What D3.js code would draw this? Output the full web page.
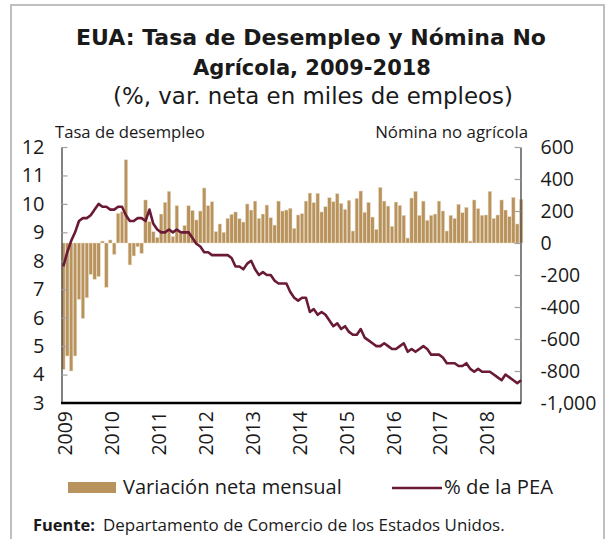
<!DOCTYPE html>
<html><head><meta charset="utf-8">
<script src="https://cdn.jsdelivr.net/npm/d3@7/dist/d3.min.js"></script>
<style>body{margin:0;background:#fff} text{font-family:'Open Sans',sans-serif;fill:#1a1a1a}</style>
</head><body><svg id="c" width="607" height="539"></svg>
<script>
// ---- data ----
const years = ["2009","2010","2011","2012","2013","2014","2015","2016","2017","2018"];
const monthsInLastYear = 10; // Jan-Oct 2018
// Net monthly change in nonfarm payrolls (thousands), Jan 2009 - Oct 2018
const payroll = [
  -790,-706,-800,-706,-352,-471,-342,-196,-227,-210,12,-277,
  19,-71,185,195,520,-137,-81,-23,-65,269,133,71,
  35,181,254,323,40,233,60,110,233,204,144,200,
  344,233,258,71,119,67,154,179,194,152,131,244,
  206,262,154,181,237,158,112,262,200,206,217,92,
  175,183,262,312,252,310,194,227,283,258,308,248,
  210,267,75,279,325,192,254,162,85,348,262,231,
  104,256,235,173,31,281,323,173,262,142,173,181,
  262,200,75,173,154,242,190,223,12,269,215,173,
  175,323,154,175,269,206,165,285,119,273
];
// Unemployment rate (% of labor force)
const unemployment = [
  7.8,8.3,8.7,9.0,9.4,9.5,9.5,9.6,9.8,10.0,9.9,9.9,
  9.8,9.8,9.9,9.9,9.6,9.4,9.4,9.5,9.5,9.4,9.8,9.3,
  9.1,9.0,9.0,9.1,9.0,9.1,9.0,9.0,9.0,8.8,8.6,8.5,
  8.3,8.3,8.2,8.2,8.2,8.2,8.2,8.1,7.8,7.8,7.7,7.9,
  8.0,7.7,7.5,7.6,7.5,7.5,7.3,7.2,7.2,7.2,6.9,6.7,
  6.6,6.7,6.7,6.2,6.3,6.1,6.2,6.1,5.9,5.7,5.8,5.6,
  5.7,5.5,5.4,5.4,5.6,5.3,5.2,5.1,5.0,5.0,5.1,5.0,
  4.9,4.9,5.0,5.1,4.8,4.9,4.8,4.9,5.0,4.9,4.7,4.7,
  4.7,4.6,4.4,4.4,4.4,4.3,4.3,4.4,4.2,4.1,4.2,4.1,
  4.1,4.1,4.0,3.9,3.8,4.0,3.9,3.8,3.7,3.8
];
const leftTicks = [3,4,5,6,7,8,9,10,11,12];
const rightTicks = [-1000,-800,-600,-400,-200,0,200,400,600];
const categories = [];
years.forEach((y,i)=>{ const n = i===years.length-1 ? monthsInLastYear : 12; for(let m=1;m<=n;m++) categories.push(y+"-"+String(m).padStart(2,"0")); });

// ---- colours ----
const gold = "#B8935E", maroon = "#6A1A36";

const svg = d3.select("#c");
// frame
svg.append("rect").attr("x",11).attr("y",5).attr("width",593).attr("height",600)
  .attr("fill","none").attr("stroke","#bfbfbf").attr("stroke-width",2);

const plotL = 61.5, plotR = 520.5, plotT = 147, plotB = 403;
const x = d3.scaleBand().domain(categories).range([61.5, 523]).paddingInner(0.12).paddingOuter(0.03);
const yL = d3.scaleLinear().domain([3,12]).range([plotB, plotT]);
const yR = d3.scaleLinear().domain([-1000,600]).range([plotB, plotT]);

// bars
svg.append("g").selectAll("rect").data(payroll).join("rect")
  .attr("x",(d,i)=>x(categories[i]))
  .attr("width",x.bandwidth())
  .attr("y",d=>yR(Math.max(0,d)))
  .attr("height",d=>Math.abs(yR(d)-yR(0)))
  .attr("fill",gold).attr("stroke","#eadcc4").attr("stroke-width",0.5);

// left axis
const fmt = d => d3.format(",")(d).replace("\u2212","-");
const gL = svg.append("g").attr("transform",`translate(${plotL},0)`)
  .call(d3.axisLeft(yL).tickValues(leftTicks).tickSizeInner(-6).tickSizeOuter(0).tickPadding(17));
gL.select(".domain").attr("stroke","#595959").attr("stroke-width",1.5);
gL.selectAll(".tick line").attr("stroke","#a0a0a0").attr("stroke-width",1.2);
gL.selectAll(".tick text").attr("font-size",20).attr("font-family","'Open Sans',sans-serif").attr("fill","#1a1a1a");

const gR = svg.append("g").attr("transform",`translate(${plotR},0)`)
  .call(d3.axisRight(yR).tickValues(rightTicks).tickFormat(fmt).tickSizeInner(-6).tickSizeOuter(0).tickPadding(20));
gR.select(".domain").attr("stroke","#595959").attr("stroke-width",1.5);
gR.selectAll(".tick line").attr("stroke","#a0a0a0").attr("stroke-width",1.2);
gR.selectAll(".tick text").attr("font-size",19.5).attr("font-family","'Open Sans',sans-serif").attr("fill","#1a1a1a");

// line
const line = d3.line().x((d,i)=>x(categories[i])+x.bandwidth()/2).y(d=>yL(d));
svg.append("path").datum(unemployment).attr("d",line)
  .attr("fill","none").attr("stroke",maroon).attr("stroke-width",2.6).attr("stroke-linejoin","round");

// bottom axis line
svg.append("line").attr("x1",plotL-0.5).attr("x2",plotR+0.5).attr("y1",plotB).attr("y2",plotB)
  .attr("stroke","#000").attr("stroke-width",2.6);

// year labels
svg.append("g").selectAll("text").data(years).join("text")
  .attr("transform",d=>`translate(${x(d+"-01")+x.bandwidth()/2+1},411) rotate(-90)`)
  .attr("text-anchor","end").attr("dominant-baseline","central")
  .attr("font-size",19.5).text(d=>d);

function fit(t,w){ const l=t.node().getComputedTextLength(); const fs=+t.attr("font-size"); t.attr("font-size",(fs*w/l).toFixed(2)); return t; }

// titles (wider face so the fitted size stays within the line spacing)
const titleFont = "'DejaVu Sans',sans-serif";
fit(svg.append("text").attr("x",311).attr("y",45).attr("text-anchor","middle").attr("font-weight","bold").attr("font-size",22)
  .style("font-family",titleFont).text("EUA: Tasa de Desempleo y Nómina No"),470);
fit(svg.append("text").attr("x",312).attr("y",75).attr("text-anchor","middle").attr("font-weight","bold").attr("font-size",22)
  .style("font-family",titleFont).text("Agrícola, 2009-2018"),238);
fit(svg.append("text").attr("x",313).attr("y",104).attr("text-anchor","middle").attr("font-size",20)
  .style("font-family",titleFont).text("(%, var. neta en miles de empleos)"),400);
fit(svg.append("text").attr("x",55).attr("y",138).attr("font-size",15).text("Tasa de desempleo"),150);
fit(svg.append("text").attr("x",528).attr("y",138).attr("text-anchor","end").attr("font-size",15).text("Nómina no agrícola"),153);

// legend
svg.append("rect").attr("x",68).attr("y",482).attr("width",48).attr("height",11).attr("fill",gold);
fit(svg.append("text").attr("x",123).attr("y",494).attr("font-size",18).text("Variación neta mensual"),219);
svg.append("line").attr("x1",392).attr("x2",442).attr("y1",488).attr("y2",488).attr("stroke",maroon).attr("stroke-width",2.5);
fit(svg.append("text").attr("x",444).attr("y",494).attr("font-size",18).text("% de la PEA"),109);

// footer
fit(svg.append("text").attr("x",33).attr("y",531).attr("font-size",15).attr("font-weight","bold").text("Fuente:"),62);
fit(svg.append("text").attr("x",103).attr("y",531).attr("font-size",14).text("Departamento de Comercio de los Estados Unidos."),402);
</script></body></html>
